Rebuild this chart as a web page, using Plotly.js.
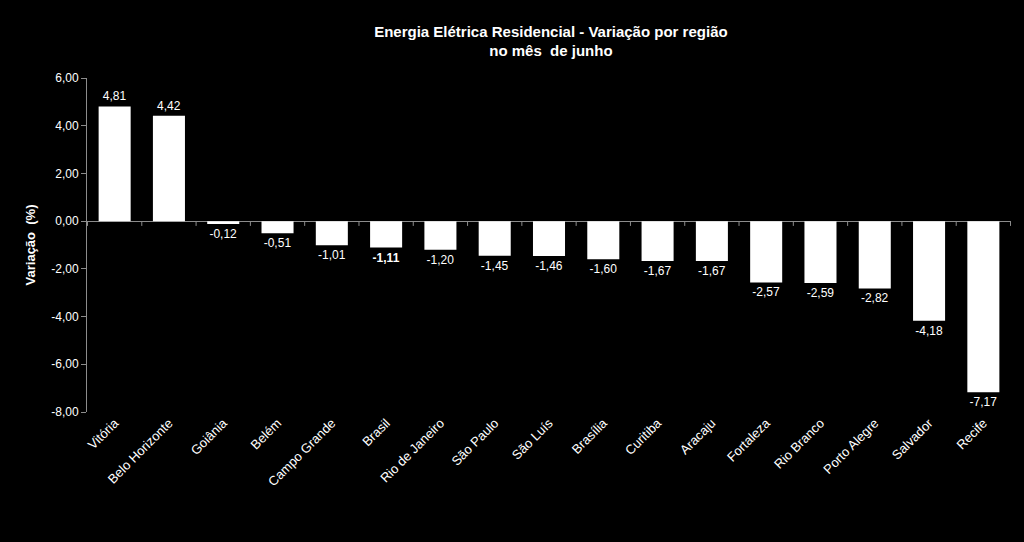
<!DOCTYPE html>
<html><head><meta charset="utf-8">
<script src="https://cdn.plot.ly/plotly-3.0.1.min.js"></script>
<style>html,body{margin:0;padding:0;background:#000;}#c{width:1024px;height:542px;}</style>
</head><body><div id="c"></div>
<script>
const categories = ["Vitória","Belo Horizonte","Goiânia","Belém","Campo Grande","Brasil","Rio de Janeiro","São Paulo","São Luís","Brasília","Curitiba","Aracaju","Fortaleza","Rio Branco","Porto Alegre","Salvador","Recife"];
const values = [4.81,4.42,-0.12,-0.51,-1.01,-1.11,-1.20,-1.45,-1.46,-1.60,-1.67,-1.67,-2.57,-2.59,-2.82,-4.18,-7.17];
const highlight = "Brasil";
const yTicks = [-8,-6,-4,-2,0,2,4,6];
const yTickText = yTicks.map(v => v.toFixed(2).replace('.',','));

const labels = values.map((v,i)=>{
  const s = v.toFixed(2).replace('.',',');
  return categories[i]===highlight ? '<b>'+s+'</b>' : s;
});

const FONT = 'Liberation Sans, Arial, sans-serif';

const trace = {
  type:'bar', x:categories, y:values, text:labels, textposition:'outside',
  texttemplate:'%{text}', cliponaxis:false,
  marker:{color:'#ffffff', line:{color:'#ffffff', width:0}},
  textfont:{family:FONT, size:12, color:'#ffffff'},
  hoverinfo:'none'
};

const layout = {
  width:1024, height:542,
  paper_bgcolor:'#000', plot_bgcolor:'#000',
  separators:',.',
  margin:{l:87, r:13, t:78, b:130},
  bargap:0.41,
  showlegend:false,
  font:{family:FONT, color:'#ffffff', size:12},
  title:{text:'<b>Energia Elétrica Residencial - Variação por região<br>no mês  de junho</b>',
    x:0.538, xanchor:'center', y:0.932, yanchor:'top',
    font:{size:15, color:'#ffffff', family:FONT}},
  xaxis:{type:'category', tickangle:-45, showgrid:false, zeroline:false, showline:false,
    ticks:'', tickfont:{size:13, color:'#ffffff', family:FONT}, automargin:false},
  yaxis:{range:[-8,6], tickvals:yTicks, ticktext:yTickText, showgrid:false,
    zeroline:true, zerolinecolor:'#8c8c8c', zerolinewidth:1,
    showline:true, linecolor:'#8c8c8c', linewidth:1, ticks:'outside', ticklen:5, tickcolor:'#8c8c8c',
    tickfont:{size:12, color:'#ffffff', family:FONT},
    title:{text:'<b>Variação  (%)</b>', font:{size:13, color:'#ffffff', family:FONT}, standoff:12}, automargin:false}
};

const shapes = [];
for (let i=0;i<=categories.length;i++){
  shapes.push({type:'line', xref:'x', yref:'y', x0:i-0.5, x1:i-0.5, y0:0, y1:-0.2, line:{color:'#8c8c8c', width:1}});
}
layout.shapes = shapes;

Plotly.newPlot('c',[trace],layout,{staticPlot:true});
</script></body></html>
